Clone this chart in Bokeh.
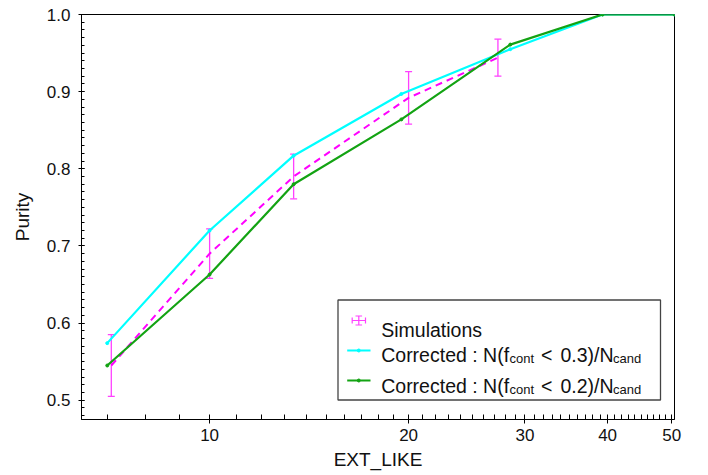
import numpy as np
from bokeh.plotting import figure
from bokeh.models import ColumnDataSource, Range1d, LinearScale, FixedTicker, Whisker, TeeHead
from bokeh.core.properties import value
from bokeh.embed import file_html
from bokeh.resources import INLINE

# simulations (points with symmetric errors)
sim_x = [7.1, 10.0, 13.4, 20.0, 27.3]
sim_purity = [0.545, 0.690, 0.790, 0.892, 0.944]
sim_err = [0.040, 0.032, 0.029, 0.034, 0.024]

# corrected estimates
corr_x = [7.0, 10.0, 13.4, 19.5, 28.5, 39.3, 50.5]
corr_03 = [0.574, 0.720, 0.817, 0.897, 0.955, 1.0, 1.0]
corr_02 = [0.545, 0.663, 0.780, 0.864, 0.961, 1.0, 1.0]

x_major = [10, 20, 30, 40, 50]
x_minor = [7, 8, 9] + list(range(11, 20)) + list(range(21, 30)) + list(range(31, 40)) + list(range(41, 50))
y_major = [0.5, 0.6, 0.7, 0.8, 0.9, 1.0]
y_minor = [round(0.48 + 0.01 * i, 2) for i in range(53)]

legend_label = "Simulations"
legend_main = ["Corrected : N(f", "Corrected : N(f"]
legend_sub1 = ["cont", "cont"]
legend_cut = ["0.3)/N", "0.2)/N"]
legend_sub2 = ["cand", "cand"]

FONT = value("Liberation Sans")
CYAN = "#00ffff"
GREEN = "#13a313"
MAGENTA = "#ff00ff"
BAR = "#ff40ff"

p = figure(width=700, height=473, x_axis_type="log",
           x_range=Range1d(6.4, 50.5), y_range=Range1d(0.475, 1.0),
           output_backend="svg", toolbar_location=None,
           min_border_left=81, min_border_right=26, min_border_top=14, min_border_bottom=54)
p.background_fill_color = "white"
p.border_fill_color = "white"
p.outline_line_color = "black"
p.outline_line_width = 1
p.xgrid.visible = False
p.ygrid.visible = False

# axes
p.xaxis.ticker = FixedTicker(ticks=x_major, minor_ticks=x_minor)
p.xaxis.major_label_overrides = {t: str(t) for t in x_major}
p.yaxis.ticker = FixedTicker(ticks=y_major, minor_ticks=y_minor)
p.yaxis.major_label_overrides = {t: "%.1f" % t for t in y_major}
p.xaxis.axis_label = "EXT_LIKE"
p.yaxis.axis_label = "Purity"
for ax in (p.xaxis, p.yaxis):
    ax.axis_label_text_font = "Liberation Sans"
    ax.axis_label_text_font_size = "19px"
    ax.axis_label_text_font_style = "normal"
    ax.axis_label_text_color = "#111111"
    ax.major_label_text_font = "Liberation Sans"
    ax.major_label_text_font_size = "17px"
    ax.major_label_text_color = "#111111"
    ax.axis_line_color = "black"
    ax.major_tick_line_color = "black"
    ax.minor_tick_line_color = "black"
p.xaxis.major_tick_in = 5
p.xaxis.major_tick_out = 4
p.xaxis.minor_tick_in = 5
p.xaxis.minor_tick_out = 0
p.xaxis.major_label_standoff = 5
p.xaxis.axis_label_standoff = 5
p.yaxis.major_tick_in = 3
p.yaxis.major_tick_out = 3
p.yaxis.minor_tick_in = 3
p.yaxis.minor_tick_out = 0
p.yaxis.major_label_standoff = 8
p.yaxis.axis_label_standoff = 11

# simulations
sim_src = ColumnDataSource(dict(x=sim_x, y=sim_purity,
                                upper=np.array(sim_purity) + np.array(sim_err),
                                lower=np.array(sim_purity) - np.array(sim_err)))
p.line("x", "y", source=sim_src, line_color=MAGENTA, line_width=2, line_dash="7 5")
p.add_layout(Whisker(source=sim_src, base="x", upper="upper", lower="lower", dimension="height",
                     line_color=BAR, line_width=1.3,
                     upper_head=TeeHead(size=7, line_color=BAR, line_width=1.3),
                     lower_head=TeeHead(size=7, line_color=BAR, line_width=1.3)))

# corrected lines
p.line(corr_x, corr_03, line_color=CYAN, line_width=2.2)
p.scatter(corr_x, corr_03, size=3, color=CYAN)
p.line(corr_x, corr_02, line_color=GREEN, line_width=2.2)
p.scatter(corr_x, corr_02, size=3, color=GREEN)

# legend drawn in frame pixel units
p.extra_x_ranges = {"px": Range1d(81, 674)}
p.extra_y_ranges = {"px": Range1d(419, 14)}
p.extra_x_scales = {"px": LinearScale()}
p.extra_y_scales = {"px": LinearScale()}
kw = dict(x_range_name="px", y_range_name="px")

p.quad(left=[337.5], right=[660], top=[299.5], bottom=[399.5], fill_color="white",
       line_color="#444444", line_width=1.3, **kw)
# error bar symbol
p.segment(x0=[351.7, 358.3, 351.7, 365, 355, 355], y0=[320, 315.5, 317, 317, 315.5, 324.5],
          x1=[365, 358.3, 351.7, 365, 361.6, 361.6], y1=[320, 324.5, 323, 323, 315.5, 324.5],
          line_color=BAR, line_width=1.2, **kw)
p.line([346.7, 370], [350, 350], line_color=CYAN, line_width=2.2, **kw)
p.scatter([358.3], [350], size=3, color=CYAN, **kw)
p.line([346.7, 370], [380, 380], line_color=GREEN, line_width=2.2, **kw)
p.scatter([358.3], [380], size=3, color=GREEN, **kw)

txt = dict(text_font=FONT, text_color="#111111", text_align="left", text_baseline="alphabetic", **kw)
base = [354, 385.5]
p.text(x=[380.7], y=[329], text=[legend_label], text_font_size="19.5px", **txt)
p.text(x=[380.7, 380.7], y=base, text=legend_main, text_font_size="19.5px", **txt)
p.text(x=[509, 509], y=[b + 3.5 for b in base], text=legend_sub1, text_font_size="13px", **txt)
p.text(x=[540.5, 540.5], y=base, text=["<", "<"], text_font_size="19.5px", **txt)
p.text(x=[560, 560], y=base, text=legend_cut, text_font_size="19.5px", **txt)
p.text(x=[612.5, 612.5], y=[b + 3.5 for b in base], text=legend_sub2, text_font_size="13px", **txt)

open("out.html", "w").write(file_html(p, INLINE))
